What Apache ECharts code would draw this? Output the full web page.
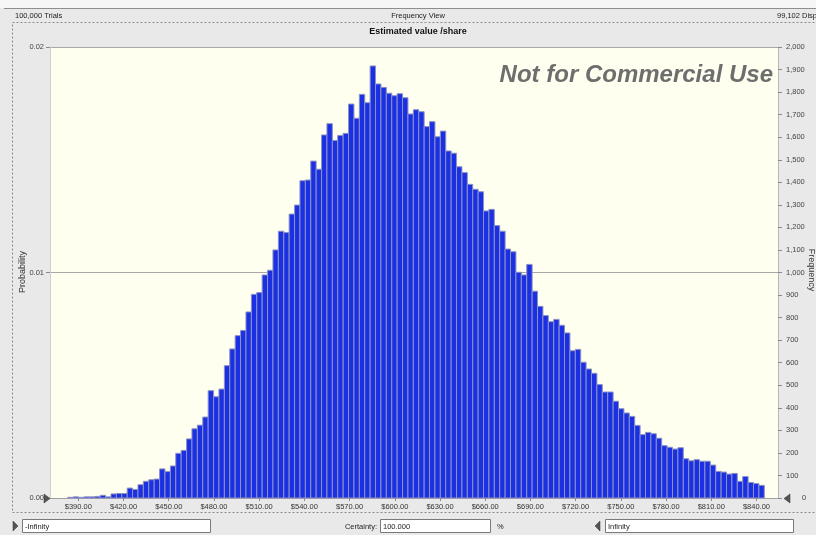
<!DOCTYPE html>
<html>
<head>
<meta charset="utf-8">
<script src="https://cdn.jsdelivr.net/npm/echarts@6/dist/echarts.min.js"></script>
<style>
html,body{margin:0;padding:0;background:#e9e9e9;}
#chart{width:816px;height:535px;}
</style>
</head>
<body>
<div id="chart"></div>
<script>
// ---- data ----
const binStart = 383.0;      // lower edge of first bin ($)
const binWidth = 3.583;      // bin width ($)
const frequencies = [
  3, 5, 3, 5, 5, 7, 12, 5, 18, 20,
  20, 44, 38, 59, 74, 81, 84, 129, 117, 142,
  198, 211, 262, 307, 323, 359, 476, 449, 483, 587,
  661, 720, 743, 825, 903, 911, 989, 1010, 1100, 1183,
  1177, 1259, 1299, 1407, 1410, 1494, 1458, 1610, 1660, 1585,
  1608, 1617, 1747, 1684, 1790, 1753, 1916, 1836, 1821, 1795,
  1784, 1793, 1775, 1703, 1722, 1713, 1647, 1669, 1602, 1627,
  1539, 1529, 1469, 1443, 1391, 1369, 1358, 1273, 1280, 1208,
  1183, 1104, 1092, 1001, 989, 1036, 917, 850, 809, 782,
  792, 766, 732, 653, 659, 602, 572, 553, 503, 470,
  470, 429, 396, 377, 362, 322, 281, 291, 285, 265,
  232, 225, 217, 223, 174, 165, 170, 163, 163, 146,
  118, 115, 106, 109, 74, 95, 69, 64, 56
];
const xTicks = [390, 420, 450, 480, 510, 540, 570, 600, 630, 660, 690, 720, 750, 780, 810, 840];
const xMin = 371.2, xMax = 854.3;
const trials = 100000;
const titleText = 'Estimated value /share';
const headerLeft = '100,000 Trials';
const headerMid = 'Frequency View';
const headerRight = '99,102 Displayed';
const leftAxisName = 'Probability';
const rightAxisName = 'Frequency';

// ---- build chart ----
const bins = frequencies.map((f, i) => [binStart + i * binWidth, binStart + (i + 1) * binWidth, f]);
const FONT = 'Liberation Sans, Arial, sans-serif';
const chart = echarts.init(document.getElementById('chart'), null, {renderer: 'canvas'});

function tri(points, z) {
  return {type: 'polygon', z: z || 100, shape: {points: points}, style: {fill: '#555', stroke: '#333', lineWidth: 0.5}};
}
function box(x, y, w, h, txt) {
  return [
    {type: 'rect', z: 50, shape: {x: x + 0.5, y: y + 0.5, width: w, height: h}, style: {fill: '#ffffff', stroke: '#7a7a7a', lineWidth: 1}},
    {type: 'text', z: 51, x: x + 3, y: y + h / 2 + 1, style: {text: txt, font: '7.5px ' + FONT, fill: '#222', verticalAlign: 'middle'}}
  ];
}

const option = {
  animation: false,
  backgroundColor: '#e9e9e9',
  grid: {left: 50, top: 47, width: 728, height: 451, show: true, backgroundColor: '#fffff0', borderWidth: 0,
         containLabel: false, outerBoundsMode: 'none'},
  xAxis: {
    type: 'value', min: xMin, max: xMax,
    axisLine: {show: true, lineStyle: {color: '#a0a0a0'}},
    axisTick: {show: true, customValues: xTicks, length: 3, lineStyle: {color: '#8a8a8a'}},
    axisLabel: {customValues: xTicks, formatter: v => '$' + v.toFixed(2), fontSize: 7.5, fontFamily: FONT, color: '#333', margin: 5},
    splitLine: {show: false}
  },
  yAxis: [
    {
      type: 'value', min: 0, max: 0.02, interval: 0.01, position: 'left',
      axisLine: {show: true, lineStyle: {color: '#d0d0d0'}},
      axisTick: {show: true, length: 4, lineStyle: {color: '#8a8a8a'}},
      axisLabel: {formatter: v => v.toFixed(2), fontSize: 7.5, fontFamily: FONT, color: '#444', margin: 6},
      splitLine: {show: true, lineStyle: {color: '#a8a8a8', width: 1}}
    },
    {
      type: 'value', min: 0, max: trials * 0.02, interval: 100, position: 'right',
      axisLine: {show: true, lineStyle: {color: '#b8b8b8'}},
      axisTick: {show: true, length: 4, lineStyle: {color: '#8a8a8a'}},
      axisLabel: {
        formatter: v => v === 0 ? '{z|0}' : v.toLocaleString('en-US'),
        fontSize: 7.5, fontFamily: FONT, color: '#444', margin: 8, hideOverlap: false, showMinLabel: true,
        rich: {z: {fontSize: 7.5, fontFamily: FONT, color: '#444', padding: [0, 0, 0, 16]}}
      },
      splitLine: {show: false}
    }
  ],
  series: [{
    type: 'custom',
    xAxisIndex: 0, yAxisIndex: 1,
    encode: {x: [0, 1], y: 2},
    data: bins,
    renderItem: function (params, api) {
      const p0 = api.coord([api.value(0), api.value(2)]);
      const p1 = api.coord([api.value(1), 0]);
      return {
        type: 'rect',
        shape: {x: p0[0], y: p0[1], width: p1[0] - p0[0], height: p1[1] - p0[1]},
        style: {fill: '#1b30e3', stroke: '#8c92c4', lineWidth: 1}
      };
    }
  }],
  graphic: [].concat(
    [
      {type: 'rect', z: -10, shape: {x: 0, y: 0, width: 816, height: 8}, style: {fill: '#f6f6f6'}},
      {type: 'line', z: 5, shape: {x1: 4, y1: 8.5, x2: 816, y2: 8.5}, style: {stroke: '#8e8e8e', lineWidth: 1}},
      {type: 'text', z: 5, x: 15, y: 16, style: {text: headerLeft, font: '7.5px ' + FONT, fill: '#222', verticalAlign: 'middle'}},
      {type: 'text', z: 5, x: 418, y: 16, style: {text: headerMid, font: '7.5px ' + FONT, fill: '#222', align: 'center', verticalAlign: 'middle'}},
      {type: 'text', z: 5, x: 777, y: 16, style: {text: headerRight, font: '7.5px ' + FONT, fill: '#222', verticalAlign: 'middle'}},
      {type: 'rect', z: 5, shape: {x: 12.5, y: 22.5, width: 830, height: 490}, style: {fill: null, stroke: '#8a8a8a', lineWidth: 1, lineDash: [2, 2]}},
      {type: 'text', z: 5, x: 418, y: 32, style: {text: titleText, font: 'bold 9px ' + FONT, fill: '#111', align: 'center', verticalAlign: 'middle'}},
      {type: 'text', z: 5, x: 23, y: 272, rotation: Math.PI / 2, style: {text: leftAxisName, font: '9px ' + FONT, fill: '#333', align: 'center', verticalAlign: 'middle'}},
      {type: 'text', z: 5, x: 811, y: 270, rotation: -Math.PI / 2, style: {text: rightAxisName, font: '9px ' + FONT, fill: '#333', align: 'center', verticalAlign: 'middle'}},
      {type: 'text', z: 20, x: 773, y: 75, style: {text: 'Not for Commercial Use', font: 'italic bold 24px ' + FONT, fill: '#6e6e6e', align: 'right', verticalAlign: 'middle'}},
      tri([[44, 494], [44, 503], [50, 498.5]], 100),
      tri([[790, 494], [790, 503], [784, 498.5]], 100),
      tri([[13, 521], [13, 531], [18, 526]], 100),
      tri([[600, 521], [600, 531], [595, 526]], 100),
      {type: 'text', z: 51, x: 377, y: 527, style: {text: 'Certainty:', font: '7.5px ' + FONT, fill: '#222', align: 'right', verticalAlign: 'middle'}},
      {type: 'text', z: 51, x: 497, y: 527, style: {text: '%', font: '7.5px ' + FONT, fill: '#222', verticalAlign: 'middle'}}
    ],
    box(22, 519, 188, 13, '-Infinity'),
    box(380, 519, 110, 13, '100.000'),
    box(605, 519, 188, 13, 'Infinity')
  )
};
chart.setOption(option);
</script>
</body>
</html>
